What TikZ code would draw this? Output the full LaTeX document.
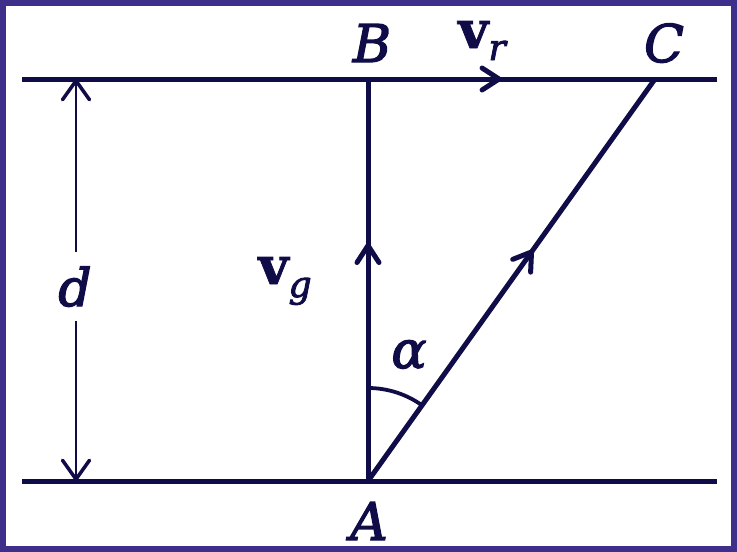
\documentclass[tikz,border=0pt]{standalone}
\usepackage{fontspec}
\setmainfont{DejaVu Serif}
\newfontfamily\lblfont{DejaVu Serif}[UprightFeatures={FakeBold=2.5},ItalicFeatures={FakeBold=2.5},BoldFeatures={FakeBold=1.5},BoldItalicFeatures={FakeBold=1.5}]
\usetikzlibrary{arrows.meta,decorations.markings}
\definecolor{ink}{RGB}{16,12,72}
\definecolor{framec}{RGB}{62,48,138}
\tikzset{dbarb/.tip={Straight Barb[length=19pt,width=27pt,round,line width=3.5pt]}}
\begin{document}
\begin{tikzpicture}[x=1pt,y=-1pt,
  mainline/.style={draw=ink,line width=5pt},
  thinline/.style={draw=ink,line width=2.2pt},
  midarrow/.style={postaction={decorate},decoration={markings,mark=at position #1 with {\arrow[ink,line width=5pt]{Straight Barb[length=17pt,width=22pt,round]}}}},
  lbl/.style={text=ink,inner sep=0pt,anchor=base,font=\lblfont\fontsize{52}{60}\selectfont}
]
\useasboundingbox (0,0) rectangle (737,552);
\draw[framec,line width=6pt] (3,3) rectangle (734,549);

\coordinate (A) at (368,481);
\coordinate (B) at (368,79);
\coordinate (C) at (655,79);
\coordinate (L1) at (22,79);
\coordinate (R1) at (717,79);
\coordinate (L2) at (22,481);
\coordinate (R2) at (717,481);
\coordinate (dT) at (76,79);
\coordinate (dB) at (76,481);

\draw[mainline,midarrow=0.69] (L1) -- (R1);
\draw[mainline] (L2) -- (R2);
\draw[mainline,midarrow=0.592] (A) -- (B);
\draw[mainline,midarrow=0.575] (A) -- (C);
\draw[thinline,dbarb-dbarb] (dT) -- (dB);
\draw[ink,line width=3.8pt] (A) ++(-90:93) arc[start angle=-90,end angle=-54.5,radius=93];

\node[lbl,fill=white,inner xsep=4pt,inner ysep=14pt] (ld) at (75,306) {\itshape d};
\node[lbl] (lB) at (372,62) {\itshape B};
\node[lbl] (lC) at (664,62) {\itshape C};
\node[lbl] (lA) at (369,540) {\itshape A};
\node[lbl] (lal) at (409,368) {\itshape α};
\node[lbl] (lvr) at (482,48) {\bfseries v\raisebox{-12pt}{\lblfont\mdseries\fontsize{36}{40}\selectfont\itshape r}};
\node[lbl] (lvg) at (285,284) {\bfseries v\raisebox{-13pt}{\lblfont\mdseries\fontsize{36}{40}\selectfont\itshape g}};
\end{tikzpicture}
\end{document}
